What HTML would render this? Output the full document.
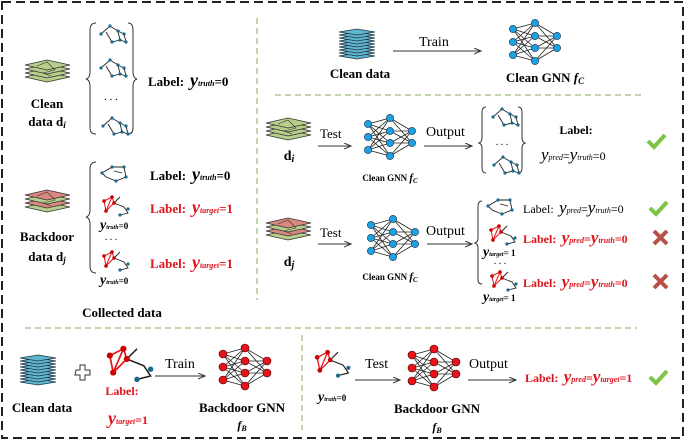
<!DOCTYPE html>
<html><head><meta charset="utf-8"><style>
html,body{margin:0;padding:0;background:#fff}
svg{display:block}
text{font-family:"Liberation Serif",serif}
.b{font-weight:bold}
.r{fill:#e0141c}
</style></head><body>
<svg width="685" height="440" viewBox="0 0 685 440" xmlns="http://www.w3.org/2000/svg">
<defs>
<marker id="ar" markerWidth="8" markerHeight="8" refX="7" refY="3" orient="auto"><path d="M0,0 L7,3 L0,6" fill="none" stroke="#333" stroke-width="1"/></marker>
<g id="nnl" stroke="#222" stroke-width="0.8">
<path d="M-22,-13L0,-19M-22,-13L0,-6M-22,-13L0,6M-22,-13L0,19M-22,0L0,-19M-22,0L0,-6M-22,0L0,6M-22,0L0,19M-22,13L0,-19M-22,13L0,-6M-22,13L0,6M-22,13L0,19M0,-19L22,-6M0,-19L22,6M0,-6L22,-6M0,-6L22,6M0,6L22,-6M0,6L22,6M0,19L22,-6M0,19L22,6"/>
</g>
<g id="nnb"><use href="#nnl"/><g fill="#1aa3e4" stroke="#124" stroke-width="0.6">
<circle cx="-22" cy="-13" r="3.6"/><circle cx="-22" cy="0" r="3.6"/><circle cx="-22" cy="13" r="3.6"/>
<circle cx="0" cy="-19" r="3.6"/><circle cx="0" cy="-6" r="3.6"/><circle cx="0" cy="6" r="3.6"/><circle cx="0" cy="19" r="3.6"/>
<circle cx="22" cy="-6" r="3.6"/><circle cx="22" cy="6" r="3.6"/></g></g>
<g id="nnr"><use href="#nnl"/><g fill="#e5141b" stroke="#400" stroke-width="0.6">
<circle cx="-22" cy="-13" r="4"/><circle cx="-22" cy="0" r="4"/><circle cx="-22" cy="13" r="4"/>
<circle cx="0" cy="-19" r="4"/><circle cx="0" cy="-6" r="4"/><circle cx="0" cy="6" r="4"/><circle cx="0" cy="19" r="4"/>
<circle cx="22" cy="-6" r="4"/><circle cx="22" cy="6" r="4"/></g></g>
<g id="lg"><path d="M0,5 L22,0 L45,5 L22,10 Z" fill="#b7cf8a" stroke="#333" stroke-width="0.8"/></g>
<g id="lr"><path d="M0,5 L22,0 L45,5 L22,10 Z" fill="#d9897f" stroke="#333" stroke-width="0.8"/></g>
<g id="lb"><path d="M0,3 L18,0 L36,3 L18,6 Z" fill="#5fb7cf" stroke="#234" stroke-width="0.7"/></g>
<g id="sg"><use href="#lg" y="12"/><use href="#lg" y="8"/><use href="#lg" y="4"/><use href="#lg" y="0"/><path d="M12,6 L22,2 L30,10 L18,13 L26,16" fill="none" stroke="#333" stroke-width="0.6"/></g>
<g id="sr"><use href="#lg" y="12"/><use href="#lr" y="8"/><use href="#lg" y="4"/><use href="#lr" y="0"/><path d="M12,6 L22,2 L30,10 L18,13 L26,16" fill="none" stroke="#333" stroke-width="0.6"/></g>
<g id="sb"><use href="#lb" y="24"/><use href="#lb" y="21"/><use href="#lb" y="18"/><use href="#lb" y="15"/><use href="#lb" y="12"/><use href="#lb" y="9"/><use href="#lb" y="6"/><use href="#lb" y="3"/><use href="#lb" y="0"/></g>
<g id="g1"><path d="M3,12 L12,4 L20,9 L22,18 L14,20 L8,10 M20,9 L26,12 L28,20 L22,18" fill="none" stroke="#222" stroke-width="0.9"/><g fill="#1a6a8a"><circle cx="3" cy="12" r="1.6"/><circle cx="12" cy="4" r="1.6"/><circle cx="20" cy="9" r="1.6"/><circle cx="22" cy="18" r="1.6"/><circle cx="14" cy="20" r="1.6"/><circle cx="26" cy="12" r="1.6"/><circle cx="28" cy="20" r="1.6"/></g></g>
<g id="g2"><path d="M2,10 L12,4 L24,4 L26,14 L16,18 L6,14 Z M14,8 L22,10" fill="none" stroke="#222" stroke-width="0.9"/><g fill="#1a6a8a"><circle cx="12" cy="4" r="1.6"/><circle cx="24" cy="4" r="1.6"/><circle cx="26" cy="14" r="1.6"/><circle cx="16" cy="18" r="1.6"/><circle cx="2" cy="10" r="1.6"/></g></g>
<g id="gr"><path d="M14,10 L24,14 L28,20 L20,22 M14,10 L20,4" fill="none" stroke="#222" stroke-width="0.9"/><path d="M4,8 L12,4 L14,10 L6,18 Z M12,4 L6,18" fill="none" stroke="#e5141b" stroke-width="1"/><g fill="#c00"><circle cx="4" cy="8" r="1.8"/><circle cx="12" cy="4" r="1.8"/><circle cx="14" cy="10" r="1.8"/><circle cx="6" cy="18" r="1.8"/></g><circle cx="28" cy="16" r="1.6" fill="#1a6a8a"/><circle cx="20" cy="22" r="1.6" fill="#1a6a8a"/></g>
<g id="ck"><path d="M0,6 L6,12 L17,0" fill="none" stroke="#7cc442" stroke-width="4"/></g>
<g id="xx"><path d="M0,0 L13,13 M13,0 L0,13" stroke="#b8504a" stroke-width="4"/></g>
</defs>

<rect x="2" y="2" width="681" height="436" fill="none" stroke="#222" stroke-width="2" stroke-dasharray="9,5"/>
<g stroke="#8aa860" stroke-width="1" stroke-dasharray="6,4" fill="none">
<path d="M257,18 V300"/><path d="M275,95 H645"/><path d="M25,328 H637"/><path d="M302,335 V430"/>
</g>

<!-- Left column -->
<use href="#sg" x="25" y="60"/>
<text x="47" y="108" text-anchor="middle" class="b" font-size="13">Clean</text>
<text x="47" y="126" text-anchor="middle" class="b" font-size="13">data d<tspan font-style="italic" font-size="9" dy="2">i</tspan></text>
<path d="M96,23 Q90,23 90,30 V72 Q90,78 86,79 Q90,80 90,86 V128 Q90,134 96,134" fill="none" stroke="#333"/>
<path d="M128,23 Q133,23 133,30 V72 Q133,78 137,79 Q133,80 133,86 V128 Q133,134 128,134" fill="none" stroke="#333"/>
<use href="#g1" x="98" y="22"/><use href="#g1" x="98" y="56"/>
<text x="111" y="100" text-anchor="middle" font-size="11">. . .</text>
<use href="#g1" x="100" y="114"/>
<text x="148" y="86" class="b" font-size="13">Label:&#8201; <tspan font-style="italic" font-size="18">y</tspan><tspan font-style="italic" font-size="8">truth</tspan>=0</text>

<use href="#sr" x="25" y="190"/>
<text x="47" y="241" text-anchor="middle" class="b" font-size="13">Backdoor</text>
<text x="47" y="261" text-anchor="middle" class="b" font-size="13">data d<tspan font-style="italic" font-size="9" dy="2">j</tspan></text>
<path d="M96,162 Q90,162 90,169 V210 Q90,216 86,217 Q90,218 90,224 V266 Q90,273 96,273" fill="none" stroke="#333"/>
<use href="#g2" x="100" y="163"/>
<use href="#gr" x="100" y="193"/>
<text x="100" y="229" class="b" font-size="9"><tspan font-style="italic" font-size="14">y</tspan><tspan font-style="italic" font-size="6">truth</tspan>=0</text>
<text x="111" y="240" text-anchor="middle" font-size="10">. . .</text>
<use href="#gr" x="100" y="248"/>
<text x="100" y="284" class="b" font-size="9"><tspan font-style="italic" font-size="14">y</tspan><tspan font-style="italic" font-size="6">truth</tspan>=0</text>
<text x="150" y="180" class="b" font-size="13">Label:&#8201; <tspan font-style="italic" font-size="18">y</tspan><tspan font-style="italic" font-size="8">truth</tspan>=0</text>
<text x="150" y="213" class="b r" font-size="13">Label:&#8201; <tspan font-style="italic" font-size="18">y</tspan><tspan font-style="italic" font-size="8">target</tspan>=1</text>
<text x="150" y="268" class="b r" font-size="13">Label:&#8201; <tspan font-style="italic" font-size="18">y</tspan><tspan font-style="italic" font-size="8">target</tspan>=1</text>
<text x="122" y="317" text-anchor="middle" class="b" font-size="13">Collected data</text>

<!-- Top right -->
<use href="#sb" x="339" y="29"/>
<text x="360" y="78" text-anchor="middle" class="b" font-size="13">Clean data</text>
<line x1="393" y1="51" x2="481" y2="51" stroke="#333" marker-end="url(#ar)"/>
<text x="419" y="46" font-size="14">Train</text>
<use href="#nnb" x="535" y="42"/>
<text x="545" y="82" text-anchor="middle" class="b" font-size="13">Clean GNN <tspan font-style="italic">f</tspan><tspan font-style="italic" font-size="9" dy="2">C</tspan></text>

<!-- Row 1 -->
<use href="#sg" x="266" y="118"/>
<text x="289" y="160" text-anchor="middle" class="b" font-size="14">d<tspan font-style="italic" font-size="10" dy="2">i</tspan></text>
<text x="320" y="138" font-size="13">Test</text>
<line x1="318" y1="146" x2="351" y2="146" stroke="#333" marker-end="url(#ar)"/>
<use href="#nnb" x="390" y="137"/>
<text x="390" y="181" text-anchor="middle" class="b" font-size="9">Clean GNN <tspan font-style="italic" font-size="11">f</tspan><tspan font-style="italic" font-size="7" dy="2">C</tspan></text>
<text x="426" y="136" font-size="14">Output</text>
<line x1="424" y1="146" x2="472" y2="146" stroke="#333" marker-end="url(#ar)"/>
<path d="M486,107 Q482,107 482,112 V138 Q482,142 479,143 Q482,144 482,148 V168 Q482,173 486,173" fill="none" stroke="#333"/>
<path d="M518,107 Q522,107 522,112 V138 Q522,142 525,143 Q522,144 522,148 V168 Q522,173 518,173" fill="none" stroke="#333"/>
<use href="#g1" x="490" y="105"/>
<text x="502" y="145" text-anchor="middle" font-size="10">. . .</text>
<use href="#g1" x="491" y="153"/>
<text x="576" y="134" text-anchor="middle" class="b" font-size="12">Label:</text>
<text x="541" y="160" font-size="12"><tspan font-style="italic" font-size="17">y</tspan><tspan font-style="italic" font-size="8">pred</tspan>=<tspan font-style="italic" font-size="17">y</tspan><tspan font-style="italic" font-size="8">truth</tspan>=0</text>
<use href="#ck" x="648" y="135"/>

<!-- Row 2 -->
<use href="#sr" x="266" y="218"/>
<text x="289" y="266" text-anchor="middle" class="b" font-size="14">d<tspan font-style="italic" font-size="10" dy="2">j</tspan></text>
<text x="320" y="237" font-size="13">Test</text>
<line x1="318" y1="244" x2="351" y2="244" stroke="#333" marker-end="url(#ar)"/>
<use href="#nnb" x="393" y="238"/>
<text x="390" y="280" text-anchor="middle" class="b" font-size="9">Clean GNN <tspan font-style="italic" font-size="11">f</tspan><tspan font-style="italic" font-size="7" dy="2">C</tspan></text>
<text x="426" y="235" font-size="14">Output</text>
<line x1="427" y1="244" x2="472" y2="244" stroke="#333" marker-end="url(#ar)"/>
<path d="M482,201 Q478,201 478,206 V238 Q478,242 475,243 Q478,244 478,248 V280 Q478,284 482,284" fill="none" stroke="#333"/>
<use href="#g2" x="486" y="196"/>
<use href="#gr" x="487" y="222"/>
<text x="483" y="256" class="b" font-size="9"><tspan font-style="italic" font-size="14">y</tspan><tspan font-style="italic" font-size="6">target</tspan>= 1</text>
<text x="500" y="264" text-anchor="middle" font-size="10">. . .</text>
<use href="#gr" x="488" y="268"/>
<text x="483" y="301" class="b" font-size="9"><tspan font-style="italic" font-size="14">y</tspan><tspan font-style="italic" font-size="6">target</tspan>= 1</text>
<text x="523" y="213" font-size="12">Label:&#8201; <tspan font-style="italic" font-size="17">y</tspan><tspan font-style="italic" font-size="8">pred</tspan>=<tspan font-style="italic" font-size="17">y</tspan><tspan font-style="italic" font-size="8">truth</tspan>=0</text>
<use href="#ck" x="650" y="202"/>
<text x="523" y="243" class="b r" font-size="12">Label:&#8201; <tspan font-style="italic" font-size="17">y</tspan><tspan font-style="italic" font-size="8">pred</tspan>=<tspan font-style="italic" font-size="17">y</tspan><tspan font-style="italic" font-size="8">truth</tspan>=0</text>
<use href="#xx" x="654" y="231"/>
<text x="523" y="287" class="b r" font-size="12">Label:&#8201; <tspan font-style="italic" font-size="17">y</tspan><tspan font-style="italic" font-size="8">pred</tspan>=<tspan font-style="italic" font-size="17">y</tspan><tspan font-style="italic" font-size="8">truth</tspan>=0</text>
<use href="#xx" x="654" y="275"/>

<!-- Bottom -->
<use href="#sb" x="20" y="355"/>
<text x="42" y="412" text-anchor="middle" class="b" font-size="13">Clean data</text>
<path d="M76,370 h4 v-5 h5 v5 h5 v5 h-5 v5 h-5 v-5 h-5 Z" fill="#fff" stroke="#333"/>
<g transform="translate(103,342) scale(1.7)"><use href="#gr"/></g>
<text x="122" y="395" text-anchor="middle" class="b r" font-size="12">Label:</text>
<text x="108" y="424" class="b r" font-size="12"><tspan font-style="italic" font-size="18">y</tspan><tspan font-style="italic" font-size="8">target</tspan>=1</text>
<text x="165" y="368" font-size="14">Train</text>
<line x1="155" y1="376" x2="205" y2="376" stroke="#333" marker-end="url(#ar)"/>
<use href="#nnr" x="245" y="367"/>
<text x="242" y="412" text-anchor="middle" class="b" font-size="13">Backdoor GNN</text>
<text x="242" y="429" text-anchor="middle" class="b" font-size="12"><tspan font-style="italic">f</tspan><tspan font-style="italic" font-size="8" dy="2">B</tspan></text>
<g transform="translate(312,347) scale(1.3)"><use href="#gr"/></g>
<text x="318" y="401" class="b" font-size="9"><tspan font-style="italic" font-size="14">y</tspan><tspan font-style="italic" font-size="6">truth</tspan>=0</text>
<text x="365" y="368" font-size="14">Test</text>
<line x1="355" y1="380" x2="400" y2="380" stroke="#333" marker-end="url(#ar)"/>
<use href="#nnr" x="434" y="368"/>
<text x="437" y="413" text-anchor="middle" class="b" font-size="13">Backdoor GNN</text>
<text x="437" y="431" text-anchor="middle" class="b" font-size="12"><tspan font-style="italic">f</tspan><tspan font-style="italic" font-size="8" dy="2">B</tspan></text>
<text x="469" y="368" font-size="14">Output</text>
<line x1="468" y1="380" x2="516" y2="380" stroke="#333" marker-end="url(#ar)"/>
<text x="525" y="382" class="b r" font-size="12">Label:&#8201; <tspan font-style="italic" font-size="17">y</tspan><tspan font-style="italic" font-size="8">pred</tspan>=<tspan font-style="italic" font-size="17">y</tspan><tspan font-style="italic" font-size="8">target</tspan>=1</text>
<use href="#ck" x="650" y="371"/>
</svg>
</body></html>
